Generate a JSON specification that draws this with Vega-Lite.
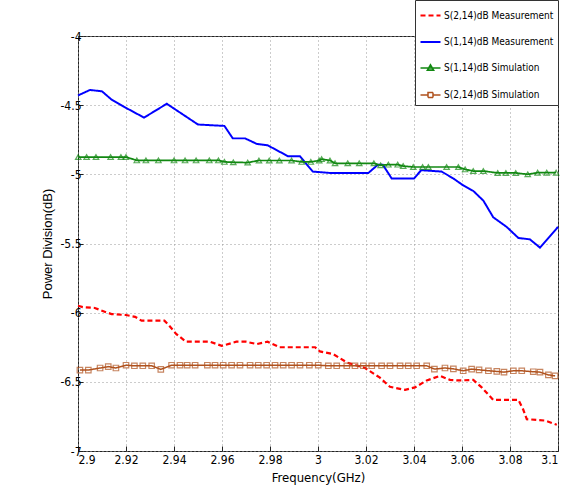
{
  "$schema": "https://vega.github.io/schema/vega-lite/v6.json",
  "width": 480,
  "height": 415,
  "autosize": {"type": "none"},
  "padding": {"left": 78, "top": 36, "right": 6, "bottom": 48},
  "background": "white",
  "config": {
    "view": {"stroke": "#222", "strokeWidth": 1},
    "axis": {
      "labelFont": "DejaVu Sans Condensed, Liberation Sans",
      "labelFontSize": 12,
      "labelColor": "#000",
      "titleFont": "DejaVu Sans Condensed, Liberation Sans",
      "titleFontSize": 13,
      "titleFontWeight": "normal",
      "titleColor": "#000",
      "domain": false,
      "grid": true,
      "gridColor": "#999",
      "gridDash": [1, 3],
      "gridWidth": 1,
      "tickColor": "#222",
      "tickSize": -5
    }
  },
  "data": {
    "values": [
      {"s": "S(1,14)dB Measurement", "f": 2.900, "v": -4.43},
      {"s": "S(1,14)dB Measurement", "f": 2.905, "v": -4.39},
      {"s": "S(1,14)dB Measurement", "f": 2.910, "v": -4.40},
      {"s": "S(1,14)dB Measurement", "f": 2.914, "v": -4.46},
      {"s": "S(1,14)dB Measurement", "f": 2.919, "v": -4.51},
      {"s": "S(1,14)dB Measurement", "f": 2.9275, "v": -4.59},
      {"s": "S(1,14)dB Measurement", "f": 2.937, "v": -4.49},
      {"s": "S(1,14)dB Measurement", "f": 2.950, "v": -4.64},
      {"s": "S(1,14)dB Measurement", "f": 2.961, "v": -4.65},
      {"s": "S(1,14)dB Measurement", "f": 2.9645, "v": -4.74},
      {"s": "S(1,14)dB Measurement", "f": 2.9696, "v": -4.74},
      {"s": "S(1,14)dB Measurement", "f": 2.9745, "v": -4.78},
      {"s": "S(1,14)dB Measurement", "f": 2.979, "v": -4.79},
      {"s": "S(1,14)dB Measurement", "f": 2.9876, "v": -4.87},
      {"s": "S(1,14)dB Measurement", "f": 2.9925, "v": -4.87},
      {"s": "S(1,14)dB Measurement", "f": 2.9978, "v": -4.98},
      {"s": "S(1,14)dB Measurement", "f": 3.005, "v": -4.99},
      {"s": "S(1,14)dB Measurement", "f": 3.021, "v": -4.99},
      {"s": "S(1,14)dB Measurement", "f": 3.025, "v": -4.93},
      {"s": "S(1,14)dB Measurement", "f": 3.027, "v": -4.93},
      {"s": "S(1,14)dB Measurement", "f": 3.0307, "v": -5.03},
      {"s": "S(1,14)dB Measurement", "f": 3.040, "v": -5.03},
      {"s": "S(1,14)dB Measurement", "f": 3.043, "v": -4.97},
      {"s": "S(1,14)dB Measurement", "f": 3.0515, "v": -4.98},
      {"s": "S(1,14)dB Measurement", "f": 3.0564, "v": -5.03},
      {"s": "S(1,14)dB Measurement", "f": 3.0605, "v": -5.08},
      {"s": "S(1,14)dB Measurement", "f": 3.0647, "v": -5.12},
      {"s": "S(1,14)dB Measurement", "f": 3.0689, "v": -5.19},
      {"s": "S(1,14)dB Measurement", "f": 3.073, "v": -5.31},
      {"s": "S(1,14)dB Measurement", "f": 3.0786, "v": -5.38},
      {"s": "S(1,14)dB Measurement", "f": 3.0835, "v": -5.46},
      {"s": "S(1,14)dB Measurement", "f": 3.0883, "v": -5.47},
      {"s": "S(1,14)dB Measurement", "f": 3.0925, "v": -5.53},
      {"s": "S(1,14)dB Measurement", "f": 3.100, "v": -5.38},

      {"s": "S(2,14)dB Measurement", "f": 2.900, "v": -5.95},
      {"s": "S(2,14)dB Measurement", "f": 2.902, "v": -5.96},
      {"s": "S(2,14)dB Measurement", "f": 2.907, "v": -5.966},
      {"s": "S(2,14)dB Measurement", "f": 2.9119, "v": -5.998},
      {"s": "S(2,14)dB Measurement", "f": 2.914, "v": -6.01},
      {"s": "S(2,14)dB Measurement", "f": 2.920, "v": -6.017},
      {"s": "S(2,14)dB Measurement", "f": 2.9238, "v": -6.03},
      {"s": "S(2,14)dB Measurement", "f": 2.9265, "v": -6.058},
      {"s": "S(2,14)dB Measurement", "f": 2.936, "v": -6.058},
      {"s": "S(2,14)dB Measurement", "f": 2.938, "v": -6.094},
      {"s": "S(2,14)dB Measurement", "f": 2.941, "v": -6.155},
      {"s": "S(2,14)dB Measurement", "f": 2.945, "v": -6.21},
      {"s": "S(2,14)dB Measurement", "f": 2.955, "v": -6.21},
      {"s": "S(2,14)dB Measurement", "f": 2.9599, "v": -6.24},
      {"s": "S(2,14)dB Measurement", "f": 2.966, "v": -6.21},
      {"s": "S(2,14)dB Measurement", "f": 2.970, "v": -6.21},
      {"s": "S(2,14)dB Measurement", "f": 2.9745, "v": -6.227},
      {"s": "S(2,14)dB Measurement", "f": 2.979, "v": -6.21},
      {"s": "S(2,14)dB Measurement", "f": 2.984, "v": -6.25},
      {"s": "S(2,14)dB Measurement", "f": 2.9988, "v": -6.25},
      {"s": "S(2,14)dB Measurement", "f": 3.0008, "v": -6.28},
      {"s": "S(2,14)dB Measurement", "f": 3.0064, "v": -6.30},
      {"s": "S(2,14)dB Measurement", "f": 3.012, "v": -6.36},
      {"s": "S(2,14)dB Measurement", "f": 3.0196, "v": -6.40},
      {"s": "S(2,14)dB Measurement", "f": 3.0258, "v": -6.47},
      {"s": "S(2,14)dB Measurement", "f": 3.030, "v": -6.536},
      {"s": "S(2,14)dB Measurement", "f": 3.0363, "v": -6.558},
      {"s": "S(2,14)dB Measurement", "f": 3.0404, "v": -6.54},
      {"s": "S(2,14)dB Measurement", "f": 3.0453, "v": -6.49},
      {"s": "S(2,14)dB Measurement", "f": 3.0508, "v": -6.457},
      {"s": "S(2,14)dB Measurement", "f": 3.055, "v": -6.486},
      {"s": "S(2,14)dB Measurement", "f": 3.0585, "v": -6.49},
      {"s": "S(2,14)dB Measurement", "f": 3.0647, "v": -6.486},
      {"s": "S(2,14)dB Measurement", "f": 3.0682, "v": -6.54},
      {"s": "S(2,14)dB Measurement", "f": 3.073, "v": -6.63},
      {"s": "S(2,14)dB Measurement", "f": 3.0835, "v": -6.63},
      {"s": "S(2,14)dB Measurement", "f": 3.0855, "v": -6.70},
      {"s": "S(2,14)dB Measurement", "f": 3.087, "v": -6.77},
      {"s": "S(2,14)dB Measurement", "f": 3.0946, "v": -6.78},
      {"s": "S(2,14)dB Measurement", "f": 3.0995, "v": -6.81},

      {"s": "S(1,14)dB Simulation", "f": 2.9001, "v": -4.875},
      {"s": "S(1,14)dB Simulation", "f": 2.9036, "v": -4.875},
      {"s": "S(1,14)dB Simulation", "f": 2.9075, "v": -4.875},
      {"s": "S(1,14)dB Simulation", "f": 2.9136, "v": -4.875},
      {"s": "S(1,14)dB Simulation", "f": 2.9179, "v": -4.875},
      {"s": "S(1,14)dB Simulation", "f": 2.9200, "v": -4.875},
      {"s": "S(1,14)dB Simulation", "f": 2.9245, "v": -4.899},
      {"s": "S(1,14)dB Simulation", "f": 2.9283, "v": -4.899},
      {"s": "S(1,14)dB Simulation", "f": 2.9335, "v": -4.899},
      {"s": "S(1,14)dB Simulation", "f": 2.9400, "v": -4.899},
      {"s": "S(1,14)dB Simulation", "f": 2.9446, "v": -4.899},
      {"s": "S(1,14)dB Simulation", "f": 2.9492, "v": -4.899},
      {"s": "S(1,14)dB Simulation", "f": 2.9547, "v": -4.899},
      {"s": "S(1,14)dB Simulation", "f": 2.9585, "v": -4.899},
      {"s": "S(1,14)dB Simulation", "f": 2.9610, "v": -4.91},
      {"s": "S(1,14)dB Simulation", "f": 2.9647, "v": -4.913},
      {"s": "S(1,14)dB Simulation", "f": 2.9707, "v": -4.915},
      {"s": "S(1,14)dB Simulation", "f": 2.9754, "v": -4.90},
      {"s": "S(1,14)dB Simulation", "f": 2.9797, "v": -4.90},
      {"s": "S(1,14)dB Simulation", "f": 2.9839, "v": -4.90},
      {"s": "S(1,14)dB Simulation", "f": 2.9890, "v": -4.90},
      {"s": "S(1,14)dB Simulation", "f": 2.9932, "v": -4.91},
      {"s": "S(1,14)dB Simulation", "f": 2.9970, "v": -4.91},
      {"s": "S(1,14)dB Simulation", "f": 3.0005, "v": -4.90},
      {"s": "S(1,14)dB Simulation", "f": 3.0015, "v": -4.89},
      {"s": "S(1,14)dB Simulation", "f": 3.0050, "v": -4.90},
      {"s": "S(1,14)dB Simulation", "f": 3.0071, "v": -4.92},
      {"s": "S(1,14)dB Simulation", "f": 3.0124, "v": -4.92},
      {"s": "S(1,14)dB Simulation", "f": 3.0172, "v": -4.92},
      {"s": "S(1,14)dB Simulation", "f": 3.0233, "v": -4.92},
      {"s": "S(1,14)dB Simulation", "f": 3.0261, "v": -4.935},
      {"s": "S(1,14)dB Simulation", "f": 3.0293, "v": -4.93},
      {"s": "S(1,14)dB Simulation", "f": 3.0332, "v": -4.93},
      {"s": "S(1,14)dB Simulation", "f": 3.0355, "v": -4.94},
      {"s": "S(1,14)dB Simulation", "f": 3.0397, "v": -4.947},
      {"s": "S(1,14)dB Simulation", "f": 3.0436, "v": -4.947},
      {"s": "S(1,14)dB Simulation", "f": 3.0460, "v": -4.947},
      {"s": "S(1,14)dB Simulation", "f": 3.0536, "v": -4.947},
      {"s": "S(1,14)dB Simulation", "f": 3.0585, "v": -4.947},
      {"s": "S(1,14)dB Simulation", "f": 3.0613, "v": -4.964},
      {"s": "S(1,14)dB Simulation", "f": 3.0647, "v": -4.976},
      {"s": "S(1,14)dB Simulation", "f": 3.0689, "v": -4.976},
      {"s": "S(1,14)dB Simulation", "f": 3.0749, "v": -4.99},
      {"s": "S(1,14)dB Simulation", "f": 3.0783, "v": -4.99},
      {"s": "S(1,14)dB Simulation", "f": 3.0824, "v": -4.99},
      {"s": "S(1,14)dB Simulation", "f": 3.0874, "v": -5.0},
      {"s": "S(1,14)dB Simulation", "f": 3.0915, "v": -4.988},
      {"s": "S(1,14)dB Simulation", "f": 3.0953, "v": -4.988},
      {"s": "S(1,14)dB Simulation", "f": 3.0992, "v": -4.988},

      {"s": "S(2,14)dB Simulation", "f": 2.9008, "v": -6.415},
      {"s": "S(2,14)dB Simulation", "f": 2.9043, "v": -6.415},
      {"s": "S(2,14)dB Simulation", "f": 2.9092, "v": -6.40},
      {"s": "S(2,14)dB Simulation", "f": 2.9126, "v": -6.39},
      {"s": "S(2,14)dB Simulation", "f": 2.9158, "v": -6.40},
      {"s": "S(2,14)dB Simulation", "f": 2.9200, "v": -6.38},
      {"s": "S(2,14)dB Simulation", "f": 2.9235, "v": -6.384},
      {"s": "S(2,14)dB Simulation", "f": 2.9270, "v": -6.384},
      {"s": "S(2,14)dB Simulation", "f": 2.9307, "v": -6.384},
      {"s": "S(2,14)dB Simulation", "f": 2.9345, "v": -6.41},
      {"s": "S(2,14)dB Simulation", "f": 2.9390, "v": -6.38},
      {"s": "S(2,14)dB Simulation", "f": 2.9425, "v": -6.38},
      {"s": "S(2,14)dB Simulation", "f": 2.9455, "v": -6.38},
      {"s": "S(2,14)dB Simulation", "f": 2.9488, "v": -6.38},
      {"s": "S(2,14)dB Simulation", "f": 2.9539, "v": -6.38},
      {"s": "S(2,14)dB Simulation", "f": 2.9571, "v": -6.38},
      {"s": "S(2,14)dB Simulation", "f": 2.9605, "v": -6.38},
      {"s": "S(2,14)dB Simulation", "f": 2.9640, "v": -6.38},
      {"s": "S(2,14)dB Simulation", "f": 2.9675, "v": -6.38},
      {"s": "S(2,14)dB Simulation", "f": 2.9717, "v": -6.38},
      {"s": "S(2,14)dB Simulation", "f": 2.9751, "v": -6.38},
      {"s": "S(2,14)dB Simulation", "f": 2.9786, "v": -6.38},
      {"s": "S(2,14)dB Simulation", "f": 2.9821, "v": -6.38},
      {"s": "S(2,14)dB Simulation", "f": 2.9855, "v": -6.38},
      {"s": "S(2,14)dB Simulation", "f": 2.9890, "v": -6.38},
      {"s": "S(2,14)dB Simulation", "f": 2.9925, "v": -6.38},
      {"s": "S(2,14)dB Simulation", "f": 2.9964, "v": -6.38},
      {"s": "S(2,14)dB Simulation", "f": 3.0001, "v": -6.38},
      {"s": "S(2,14)dB Simulation", "f": 3.0043, "v": -6.384},
      {"s": "S(2,14)dB Simulation", "f": 3.0078, "v": -6.384},
      {"s": "S(2,14)dB Simulation", "f": 3.0120, "v": -6.384},
      {"s": "S(2,14)dB Simulation", "f": 3.0154, "v": -6.384},
      {"s": "S(2,14)dB Simulation", "f": 3.0189, "v": -6.384},
      {"s": "S(2,14)dB Simulation", "f": 3.0224, "v": -6.384},
      {"s": "S(2,14)dB Simulation", "f": 3.0265, "v": -6.384},
      {"s": "S(2,14)dB Simulation", "f": 3.0300, "v": -6.384},
      {"s": "S(2,14)dB Simulation", "f": 3.0342, "v": -6.384},
      {"s": "S(2,14)dB Simulation", "f": 3.0376, "v": -6.384},
      {"s": "S(2,14)dB Simulation", "f": 3.0411, "v": -6.384},
      {"s": "S(2,14)dB Simulation", "f": 3.0453, "v": -6.384},
      {"s": "S(2,14)dB Simulation", "f": 3.0485, "v": -6.408},
      {"s": "S(2,14)dB Simulation", "f": 3.0529, "v": -6.40},
      {"s": "S(2,14)dB Simulation", "f": 3.0564, "v": -6.406},
      {"s": "S(2,14)dB Simulation", "f": 3.0605, "v": -6.42},
      {"s": "S(2,14)dB Simulation", "f": 3.0640, "v": -6.408},
      {"s": "S(2,14)dB Simulation", "f": 3.0671, "v": -6.413},
      {"s": "S(2,14)dB Simulation", "f": 3.0710, "v": -6.42},
      {"s": "S(2,14)dB Simulation", "f": 3.0745, "v": -6.425},
      {"s": "S(2,14)dB Simulation", "f": 3.0775, "v": -6.43},
      {"s": "S(2,14)dB Simulation", "f": 3.0814, "v": -6.42},
      {"s": "S(2,14)dB Simulation", "f": 3.0849, "v": -6.42},
      {"s": "S(2,14)dB Simulation", "f": 3.0897, "v": -6.427},
      {"s": "S(2,14)dB Simulation", "f": 3.0925, "v": -6.43},
      {"s": "S(2,14)dB Simulation", "f": 3.0960, "v": -6.45},
      {"s": "S(2,14)dB Simulation", "f": 3.0988, "v": -6.457}
    ]
  },
  "encoding": {
    "x": {
      "field": "f", "type": "quantitative",
      "scale": {"domain": [2.9, 3.1], "nice": false, "zero": false},
      "axis": {
        "title": "Frequency(GHz)",
        "values": [2.9, 2.92, 2.94, 2.96, 2.98, 3.0, 3.02, 3.04, 3.06, 3.08, 3.1],
        "labelExpr": "'' + datum.value",
        "labelPadding": 8,
        "titlePadding": 6
      }
    },
    "y": {
      "field": "v", "type": "quantitative",
      "scale": {"domain": [-7, -4], "nice": false, "zero": false},
      "axis": {
        "title": "Power Division(dB)",
        "titleFont": "Liberation Sans",
        "titleFontSize": 13,
        "values": [-7, -6.5, -6, -5.5, -5, -4.5, -4],
        "labelExpr": "'' + datum.value",
        "labelPadding": 2,
        "titlePadding": 5
      }
    }
  },
  "layer": [
    {
      "mark": {"type": "line", "interpolate": "linear"},
      "encoding": {
        "order": {"field": "f", "type": "quantitative"},
        "color": {
          "field": "s", "type": "nominal",
          "scale": {
            "domain": ["S(2,14)dB Measurement", "S(1,14)dB Measurement", "S(1,14)dB Simulation", "S(2,14)dB Simulation"],
            "range": ["#ff0000", "#0000ff", "#118811", "#b0521e"]
          },
          "legend": {
            "title": null,
            "orient": "none",
            "legendX": 337,
            "legendY": -36,
            "padding": 4,
            "fillColor": "white",
            "strokeColor": "#333",
            "symbolSize": 400,
            "symbolStrokeWidth": 1.5,
            "rowPadding": 10,
            "labelFont": "DejaVu Sans Condensed, Liberation Sans",
            "labelFontSize": 10,
            "labelColor": "#000",
            "labelOffset": 2,
            "labelLimit": 300,
            "encode": {
              "symbols": {
                "update": {
                  "shape": {"signal": "datum.value === 'S(1,14)dB Simulation' ? 'M-1,0L1,0M-0.3,0.22L0,-0.3L0.3,0.22Z' : datum.value === 'S(2,14)dB Simulation' ? 'M-1,0L-0.25,0M0.25,0L1,0M-0.25,-0.25L0.25,-0.25L0.25,0.25L-0.25,0.25Z' : 'M-1,0L1,0'"},
                  "strokeDash": {"signal": "datum.value === 'S(2,14)dB Measurement' ? [4, 2] : [1, 0]"},
                  "fill": {"value": "transparent"},
                  "strokeWidth": {"value": 1.5}
                }
              }
            }
          }
        },
        "strokeDash": {
          "field": "s", "type": "nominal",
          "scale": {
            "domain": ["S(2,14)dB Measurement", "S(1,14)dB Measurement", "S(1,14)dB Simulation", "S(2,14)dB Simulation"],
            "range": [[5, 3], [1, 0], [1, 0], [1, 0]]
          },
          "legend": null
        },
        "strokeWidth": {
          "field": "s", "type": "nominal",
          "scale": {
            "domain": ["S(2,14)dB Measurement", "S(1,14)dB Measurement", "S(1,14)dB Simulation", "S(2,14)dB Simulation"],
            "range": [2.2, 1.5, 1.5, 1.5]
          },
          "legend": null
        }
      }
    },
    {
      "transform": [{"filter": "datum.s === 'S(1,14)dB Simulation'"}],
      "mark": {"type": "point", "shape": "triangle-up", "filled": false, "color": "#118811", "size": 30, "strokeWidth": 1.2}
    },
    {
      "transform": [{"filter": "datum.s === 'S(2,14)dB Simulation'"}],
      "mark": {"type": "point", "shape": "square", "filled": false, "color": "#b0521e", "size": 30, "strokeWidth": 1.2}
    }
  ]
}
